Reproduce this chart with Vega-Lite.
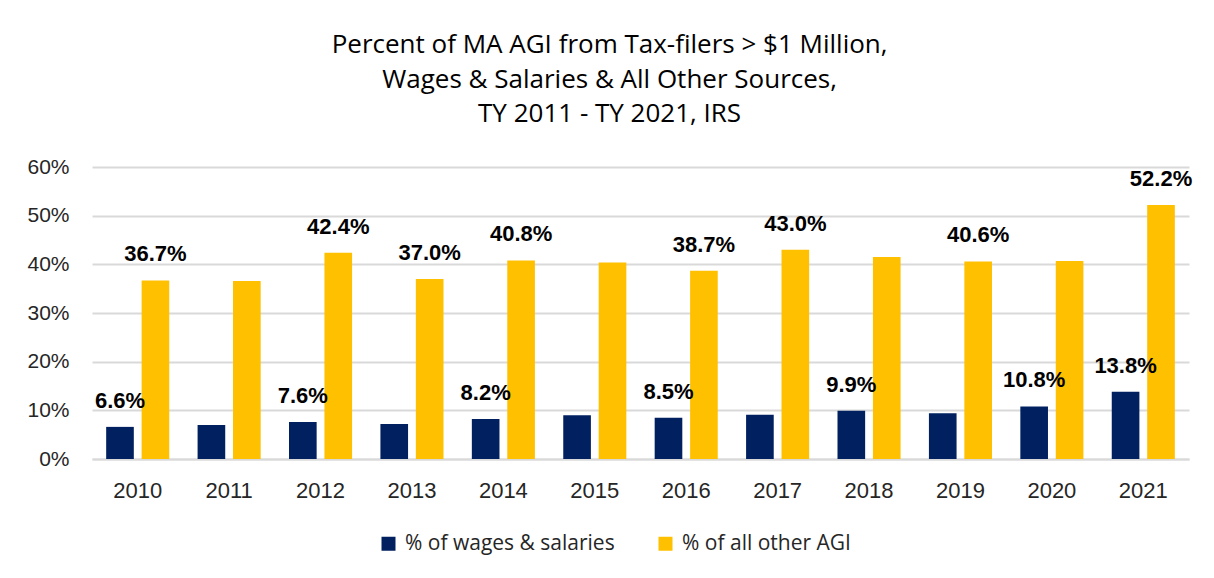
{
  "$schema": "https://vega.github.io/schema/vega-lite/v6.json",
  "width": 1097,
  "height": 292,
  "padding": {"left": 26, "top": 32, "right": 26, "bottom": 20},
  "background": "white",
  "title": {
    "text": ["Percent of MA AGI from Tax-filers > $1 Million,", "Wages & Salaries & All Other Sources,", "TY 2011 - TY 2021, IRS"],
    "font": "Open Sans",
    "fontSize": 26,
    "fontWeight": "normal",
    "lineHeight": 34.5,
    "color": "#000000",
    "anchor": "middle",
    "frame": "bounds",
    "offset": 29
  },
  "data": {
    "values": [
      {"year": "2010", "series": "% of wages & salaries", "value": 0.066, "labeled": true},
      {"year": "2011", "series": "% of wages & salaries", "value": 0.070, "labeled": false},
      {"year": "2012", "series": "% of wages & salaries", "value": 0.076, "labeled": true},
      {"year": "2013", "series": "% of wages & salaries", "value": 0.072, "labeled": false},
      {"year": "2014", "series": "% of wages & salaries", "value": 0.082, "labeled": true},
      {"year": "2015", "series": "% of wages & salaries", "value": 0.090, "labeled": false},
      {"year": "2016", "series": "% of wages & salaries", "value": 0.085, "labeled": true},
      {"year": "2017", "series": "% of wages & salaries", "value": 0.091, "labeled": false},
      {"year": "2018", "series": "% of wages & salaries", "value": 0.099, "labeled": true},
      {"year": "2019", "series": "% of wages & salaries", "value": 0.094, "labeled": false},
      {"year": "2020", "series": "% of wages & salaries", "value": 0.108, "labeled": true},
      {"year": "2021", "series": "% of wages & salaries", "value": 0.138, "labeled": true},
      {"year": "2010", "series": "% of all other AGI", "value": 0.367, "labeled": true},
      {"year": "2011", "series": "% of all other AGI", "value": 0.366, "labeled": false},
      {"year": "2012", "series": "% of all other AGI", "value": 0.424, "labeled": true},
      {"year": "2013", "series": "% of all other AGI", "value": 0.370, "labeled": true},
      {"year": "2014", "series": "% of all other AGI", "value": 0.408, "labeled": true},
      {"year": "2015", "series": "% of all other AGI", "value": 0.404, "labeled": false},
      {"year": "2016", "series": "% of all other AGI", "value": 0.387, "labeled": true},
      {"year": "2017", "series": "% of all other AGI", "value": 0.430, "labeled": true},
      {"year": "2018", "series": "% of all other AGI", "value": 0.415, "labeled": false},
      {"year": "2019", "series": "% of all other AGI", "value": 0.406, "labeled": true},
      {"year": "2020", "series": "% of all other AGI", "value": 0.407, "labeled": false},
      {"year": "2021", "series": "% of all other AGI", "value": 0.522, "labeled": true}
    ]
  },
  "encoding": {
    "x": {
      "field": "year",
      "type": "nominal",
      "scale": {"paddingInner": 0.31, "paddingOuter": 0.155},
      "axis": {
        "title": null,
        "labelAngle": 0,
        "labelFont": "Liberation Sans",
        "labelFontSize": 22,
        "labelColor": "#262626",
        "labelPadding": 21,
        "ticks": false,
        "domain": true,
        "domainColor": "#d9d9d9",
        "domainWidth": 2,
        "grid": false
      }
    },
    "xOffset": {
      "field": "series",
      "type": "nominal",
      "sort": ["% of wages & salaries", "% of all other AGI"],
      "scale": {"paddingInner": 0.22, "paddingOuter": 0}
    },
    "y": {
      "field": "value",
      "type": "quantitative",
      "scale": {"domain": [0, 0.6], "nice": false},
      "axis": {
        "title": null,
        "format": ".0%",
        "values": [0, 0.1, 0.2, 0.3, 0.4, 0.5, 0.6],
        "labelFont": "Liberation Sans",
        "labelFontSize": 21,
        "labelColor": "#262626",
        "labelPadding": 23,
        "ticks": false,
        "domain": false,
        "grid": true,
        "gridColor": "#d9d9d9",
        "gridWidth": 2
      }
    }
  },
  "layer": [
    {
      "mark": {"type": "bar"},
      "encoding": {
        "color": {
          "field": "series",
          "type": "nominal",
          "sort": ["% of wages & salaries", "% of all other AGI"],
          "scale": {"domain": ["% of wages & salaries", "% of all other AGI"], "range": ["#002060", "#FFC000"]},
          "legend": {
            "title": null,
            "orient": "none",
            "direction": "horizontal",
            "legendX": 286,
            "legendY": 366,
            "symbolType": "square",
            "symbolSize": 196,
            "symbolStrokeWidth": 0,
            "labelFont": "Open Sans",
            "labelFontSize": 21,
            "labelColor": "#262626",
            "labelOffset": 6,
            "labelLimit": 0,
            "columnPadding": 40
          }
        }
      }
    },
    {
      "transform": [{"filter": "datum.labeled"}],
      "mark": {
        "type": "text",
        "font": "Liberation Sans",
        "fontWeight": "bold",
        "fontSize": 22,
        "color": "#000000",
        "baseline": "alphabetic",
        "dy": -19
      },
      "encoding": {
        "text": {"field": "value", "type": "quantitative", "format": ".1%"}
      }
    }
  ],
  "config": {
    "view": {"stroke": null}
  }
}
